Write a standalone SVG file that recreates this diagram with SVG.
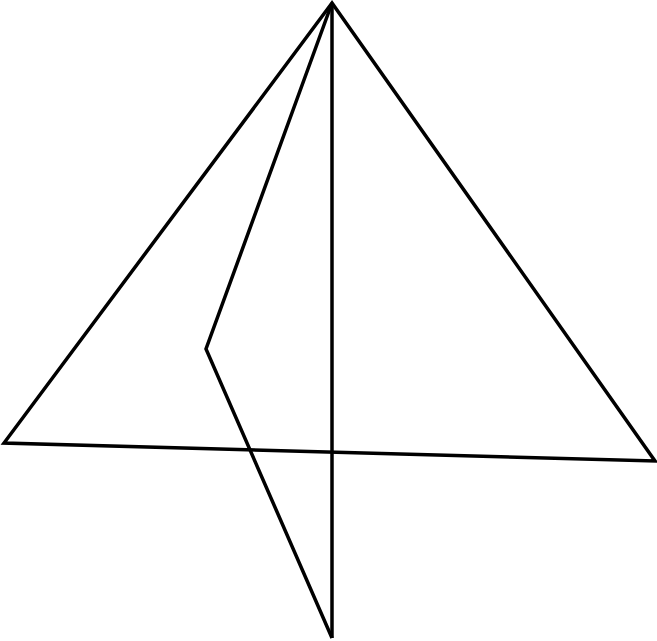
<svg xmlns="http://www.w3.org/2000/svg" width="657" height="641" viewBox="0 0 657 641">
<style>.l{fill:none;stroke:#000;stroke-width:3.5;stroke-linejoin:miter;stroke-linecap:butt}</style>
<rect width="657" height="641" fill="#fff"/>
<g id="connectors">
<path class="l" d="M332,3 L4,443 L655,461 Z"/>
<path class="l" d="M332,3 L332,638"/>
<path class="l" d="M332,3 L206,349 L332,638"/>
</g>
</svg>
